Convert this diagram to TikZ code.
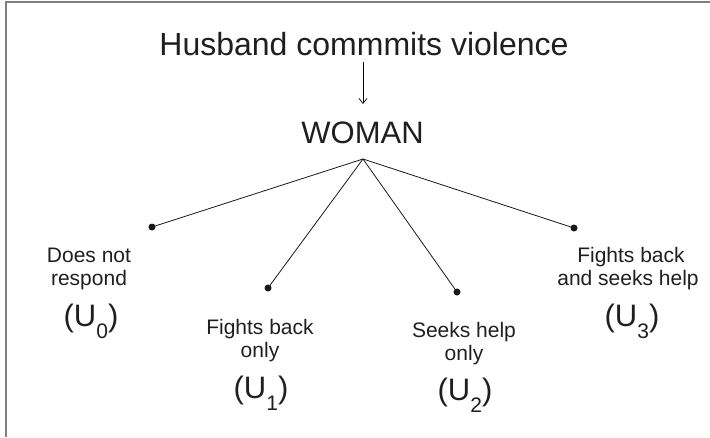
\documentclass[tikz,border=0pt]{standalone}
\usepackage{fontspec}
\setmainfont{Liberation Sans}
\usetikzlibrary{arrows.meta}
\newcommand{\usub}[1]{(U\raisebox{-12pt}{\fontsize{21}{21}\selectfont #1})}
\tikzset{
  title/.style={font=\fontsize{32}{36}\selectfont, anchor=base, inner sep=0pt, text=black!88},
  lbl/.style={font=\fontsize{21}{24}\selectfont, anchor=base, inner sep=0pt, text=black!88},
  ulbl/.style={font=\fontsize{31}{34}\selectfont, anchor=base, inner sep=0pt, text=black!88},
  branch/.style={draw=black!90, line width=0.8pt},
  leaf/.style={circle, fill=black!90, inner sep=0pt, minimum size=7pt},
  frame/.style={draw=black!50, line width=1.3pt}
}
\begin{document}
\begin{tikzpicture}[x=1pt, y=-1pt]
\useasboundingbox (0,0) rectangle (710,437);
\coordinate (fl) at (6,437);
\coordinate (fc) at (6,2);
\coordinate (fr) at (710,2);
\draw[frame] (fl) -- (fc) -- (fr);

\node[title] (hus) at (364,55) {Husband commmits violence};
\node[title, font=\fontsize{31}{36}\selectfont] (wom) at (362.5,143) {WOMAN};
\coordinate (ars) at (363,62);
\coordinate (are) at (363,104);
\draw[line width=0.8pt, -{Straight Barb[length=5pt, width=8pt, line width=0.7pt]}] (ars) -- (are);

\coordinate (apex) at (363,159);
\node[leaf] (d0) at (152,227) {};
\node[leaf] (d1) at (268,288) {};
\node[leaf] (d2) at (457,292) {};
\node[leaf] (d3) at (574,228) {};
\draw[branch] (apex) -- (d0.center);
\draw[branch] (apex) -- (d1.center);
\draw[branch] (apex) -- (d2.center);
\draw[branch] (apex) -- (d3.center);

\node[lbl] (a0) at (89,262) {Does not};
\node[lbl] (b0) at (89,285) {respond};
\node[ulbl] (u0) at (91,326) {\usub{0}};

\node[lbl] (a1) at (260,334) {Fights back};
\node[lbl] (b1) at (260,357) {only};
\node[ulbl] (u1) at (261,398) {\usub{1}};

\node[lbl] (a2) at (464,337) {Seeks help};
\node[lbl] (b2) at (464,360) {only};
\node[ulbl] (u2) at (465,400) {\usub{2}};

\node[lbl] (a3) at (631,262) {Fights back};
\node[lbl] (b3) at (628,285) {and seeks help};
\node[ulbl] (u3) at (632,326) {\usub{3}};
\end{tikzpicture}
\end{document}
